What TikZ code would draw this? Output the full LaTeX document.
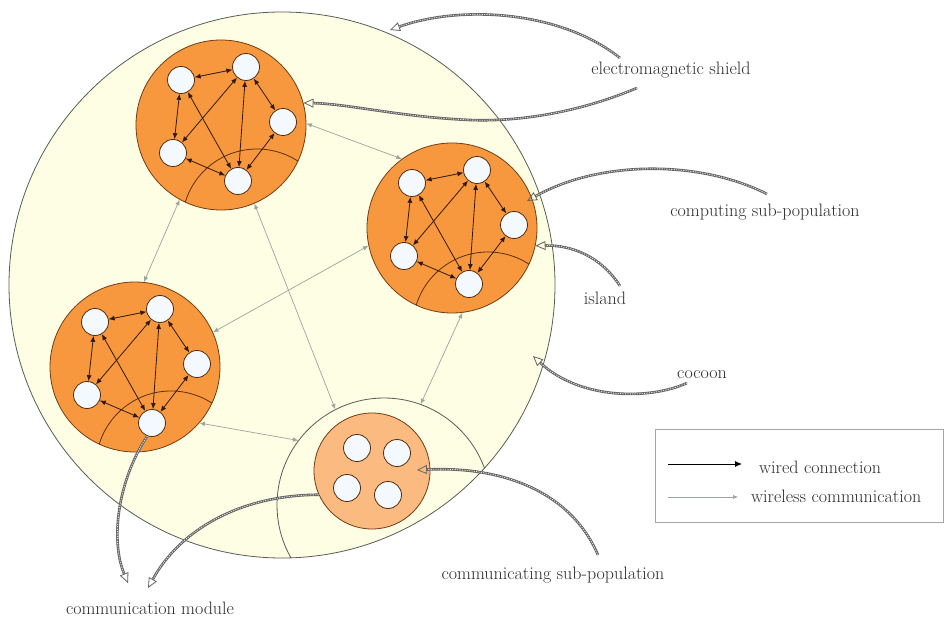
\documentclass[tikz,border=0pt]{standalone}
\usetikzlibrary{arrows.meta,calc}
\definecolor{cocoonfill}{RGB}{254,254,228}
\definecolor{cocoonline}{RGB}{85,95,85}
\definecolor{islandfill}{RGB}{247,152,62}
\definecolor{islandline}{RGB}{115,60,20}
\definecolor{commfill}{RGB}{250,186,128}
\definecolor{nodefill}{RGB}{244,249,255}
\definecolor{wiredcol}{RGB}{50,25,10}
\definecolor{wirelesscol}{RGB}{155,165,155}
\definecolor{ropecol}{RGB}{100,100,100}
\definecolor{textcol}{RGB}{45,45,45}
\begin{document}
\begin{tikzpicture}[x=1pt,y=-1pt,
  island/.style={circle, draw=islandline, fill=islandfill, line width=0.8pt, minimum size=170pt, inner sep=0pt},
  commisland/.style={circle, draw=islandline, fill=commfill, line width=0.8pt, minimum size=116pt, inner sep=0pt},
  cell/.style={circle, draw=islandline!70!black, fill=nodefill, line width=0.8pt, minimum size=27pt, inner sep=0pt},
  wired/.style={draw=wiredcol, line width=0.8pt, {Latex[length=6pt,width=5pt]}-{Latex[length=6pt,width=5pt]}},
  wireless/.style={draw=wirelesscol, line width=0.7pt, {Latex[length=5.5pt,width=4.5pt]}-{Latex[length=5.5pt,width=4.5pt]}},
  rope/.style={draw=ropecol, line width=2.6pt, -{Triangle[open, length=10pt, width=9pt, line width=0.8pt]},
    postaction={draw=white!75!gray, line width=0.9pt, dash pattern=on 1.2pt off 1.2pt, arrows=-, shorten >=10pt}},
  lbl/.style={text=textcol, font=\fontsize{18}{21}\selectfont, inner sep=1pt},
]
\useasboundingbox (0,0) rectangle (945,620);
\fill[white] (0,0) rectangle (945,620);

% cocoon
\draw[fill=cocoonfill, draw=cocoonline, line width=0.8pt] (282,285) circle (273pt);

% communication module of the communicating sub-population
\node[circle, minimum size=214pt, inner sep=0pt] (eg) at (384,505) {};
\begin{scope}
  \clip (282,285) circle (273pt);
  \draw[cocoonline, line width=0.8pt] (384,505) circle (107pt);
\end{scope}

% computing islands
\foreach \n/\cx/\cy in {a/221/125, b/452/228, c/135/367} {
  \node[island] (\n) at (\cx,\cy) {};
  \begin{scope}
    \clip (\cx,\cy) circle (85pt);
    \draw[islandline!80!black, line width=0.8pt] (\cx+36,\cy+99) circle (75pt);
  \end{scope}
  \node[cell] (\n-A) at (\cx-40,\cy-45) {};
  \node[cell] (\n-B) at (\cx+25,\cy-58) {};
  \node[cell] (\n-C) at (\cx+62,\cy-3) {};
  \node[cell] (\n-D) at (\cx-48,\cy+28) {};
  \node[cell] (\n-E) at (\cx+17,\cy+56) {};
  \draw[wired] (\n-A) -- (\n-B);
  \draw[wired] (\n-A) -- (\n-D);
  \draw[wired] (\n-D) -- (\n-E);
  \draw[wired] (\n-B) -- (\n-C);
  \draw[wired] (\n-C) -- (\n-E);
  \draw[wired] (\n-B) -- (\n-E);
  \draw[wired] (\n-A) -- (\n-E);
  \draw[wired] (\n-B) -- (\n-D);
}

% communicating island
\node[commisland] (d) at (372,471) {};
\node[cell] (d-1) at (357,448) {};
\node[cell] (d-2) at (397,453) {};
\node[cell] (d-3) at (347,488) {};
\node[cell] (d-4) at (388,495) {};

% wireless communication
\draw[wireless] (a.241) -- (c.84);
\draw[wireless] (a.1) -- (b.126);
\draw[wireless] (b.192) -- (c.24);
\draw[wireless] (a.293) -- (eg.117);
\draw[wireless] (c.319) -- (eg.143);
\draw[wireless] (b.277) -- (eg.70);

% labels
\node[lbl] (em) at (671,70) {electromagnetic shield};
\node[lbl] (cs) at (765,212) {computing sub-population};
\node[lbl] (isl) at (605,298) {island};
\node[lbl] (coc) at (702,375) {cocoon};
\node[lbl] (csp) at (553,575) {communicating sub-population};
\node[lbl] (cm) at (150,608) {communication module};

% callout ends
\coordinate (em1) at (620,58);
\coordinate (em2) at (637,88);
\coordinate (emtip) at (390,30);
\coordinate (cs1) at (767,194);
\coordinate (cstip) at (527,201);
\coordinate (isl1) at (620,286);
\coordinate (coc1) at (687,383);
\coordinate (coctip) at (533,356);
\coordinate (csp1) at (598,555);
\coordinate (csptip) at (417,470);
\coordinate (cmtipa) at (128,583);
\coordinate (cmtipb) at (148,588);

% callouts
\draw[rope] (em1) .. controls (560,10) and (460,5) .. (emtip);
\draw[rope] (em2) .. controls (580,112) and (520,122) .. (470,120) .. controls (400,117) and (350,104) .. (a.15);
\draw[rope] (cs1) .. controls (700,160) and (600,160) .. (cstip);
\draw[rope] (isl1) .. controls (600,255) and (570,245) .. (b.-12);
\draw[rope] (coc1) .. controls (650,400) and (580,400) .. (coctip);
\draw[rope] (csp1) .. controls (570,490) and (500,466) .. (csptip);
\draw[rope] (c-E.250) .. controls (118,480) and (110,540) .. (cmtipa);
\draw[rope] (d.204) .. controls (240,495) and (180,530) .. (cmtipb);

% legend
\node[draw=gray!70, line width=1pt, minimum width=288pt, minimum height=93pt, inner sep=0pt] (legend) at (799,475.5) {};
\coordinate (lw1) at (668,464);
\coordinate (lw2) at (742,464);
\coordinate (ll1) at (668,497);
\coordinate (ll2) at (738,497);
\draw[black, line width=0.8pt, -{Latex[length=7pt,width=6pt]}] (lw1) -- (lw2);
\draw[wirelesscol, line width=0.6pt, -{Latex[length=5pt,width=4pt]}] (ll1) -- (ll2);
\node[lbl, anchor=west] (lwt) at (758,467) {wired connection};
\node[lbl, anchor=west] (llt) at (750,496) {wireless communication};
\end{tikzpicture}
\end{document}
